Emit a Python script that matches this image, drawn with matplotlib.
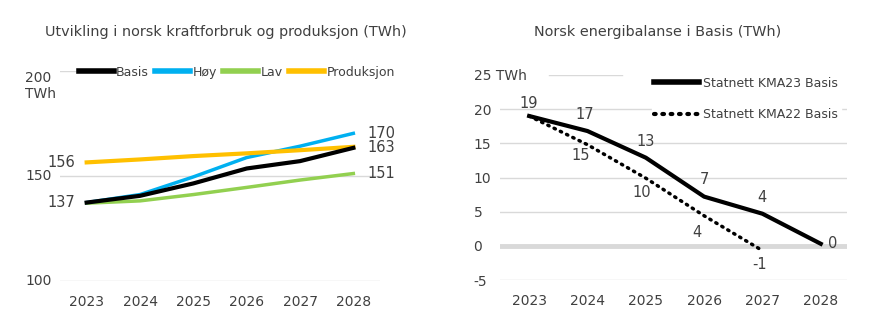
import numpy as np
import matplotlib
matplotlib.use("Agg")
import matplotlib.pyplot as plt

plt.rcParams['font.family'] = ['DejaVu Sans']

years = [2023, 2024, 2025, 2026, 2027, 2028]

# left chart: consumption scenarios and production (TWh)
basis = [137.3, 140.5, 146.4, 153.5, 157.0, 163.3]
hoy = [137.3, 141.1, 149.5, 158.7, 164.1, 170.2]
lav = [137.0, 138.1, 141.1, 144.5, 148.0, 151.1]
produksjon = [156.4, 157.8, 159.4, 160.7, 162.2, 163.8]

# right chart: energy balance (TWh)
kma23 = [19.0, 16.8, 12.9, 7.2, 4.7, 0.3]
kma22 = [19.0, 14.8, 9.9, 4.4, -0.7]
kma23_labels = ["19", "17", "13", "7", "4", "0"]
kma22_labels = ["15", "10", "4", "-1"]

TXT = "#404040"
GRID = "#d9d9d9"

W, H = 874, 324
fig = plt.figure(figsize=(W / 100, H / 100), dpi=100)


def px_axes(x0, y0, x1, y1):
    return fig.add_axes([x0 / W, 1 - y1 / H, (x1 - x0) / W, (y1 - y0) / H])


def clean(ax):
    for s in ax.spines.values():
        s.set_visible(False)
    ax.tick_params(length=0, colors=TXT, labelsize=10)
    ax.xaxis.set_tick_params(pad=10)
    ax.set_xticks(years)
    ax.set_xticklabels([str(y) for y in years])


# ---- left ----
ax1 = px_axes(60, 70.7, 380, 281)
clean(ax1)
ax1.set_xlim(2022.5, 2028.5)
ax1.set_ylim(100, 200)
ax1.set_yticks([100, 150, 200])
ax1.set_yticklabels(["100", "150", "200\nTWh"])
for lab, v in zip(ax1.get_yticklabels(), [100, 150, 200]):
    lab.set_verticalalignment("center" if v != 200 else "top")
    lab.set_horizontalalignment("left")
ax1.yaxis.set_tick_params(pad=25)
ax1.grid(axis="y", color=GRID, lw=1)
ax1.set_axisbelow(True)

ax1.plot(years, lav, color="#92d050", lw=2.5, label="Lav", zorder=3)
ax1.plot(years, hoy, color="#00b0f0", lw=2.5, label="Høy", zorder=4)
ax1.plot(years, basis, color="black", lw=3, label="Basis", zorder=5)
ax1.plot(years, produksjon, color="#ffc000", lw=3, label="Produksjon", zorder=4)

handles, labels = ax1.get_legend_handles_labels()
order = [2, 1, 0, 3]
leg = ax1.legend([handles[i] for i in order], [labels[i] for i in order],
                 loc="upper left", bbox_to_anchor=(0.035, 1.06), ncol=4,
                 frameon=True, framealpha=1, edgecolor="white",
                 fontsize=9, handlelength=2.8, handletextpad=0.2,
                 columnspacing=0.5, borderpad=0.1, labelcolor=TXT)
for ln in leg.get_lines():
    ln.set_linewidth(4)

ax1.annotate("137", (years[0], basis[0]), xytext=(-8, 0), textcoords="offset points",
             ha="right", va="center", color=TXT, fontsize=10.5)
ax1.annotate("156", (years[0], produksjon[0]), xytext=(-8, 0), textcoords="offset points",
             ha="right", va="center", color=TXT, fontsize=10.5)
ax1.annotate("170", (years[-1], hoy[-1]), xytext=(10, 0), textcoords="offset points",
             ha="left", va="center", color=TXT, fontsize=10.5)
ax1.annotate("163", (years[-1], basis[-1]), xytext=(10, 0), textcoords="offset points",
             ha="left", va="center", color=TXT, fontsize=10.5)
ax1.annotate("151", (years[-1], lav[-1]), xytext=(10, 0), textcoords="offset points",
             ha="left", va="center", color=TXT, fontsize=10.5)

fig.text(226 / W, 1 - 32 / H, "Utvikling i norsk kraftforbruk og produksjon (TWh)",
         ha="center", va="center", color=TXT, fontsize=10.4)

# ---- right ----
ax2 = px_axes(500, 75, 847, 280)
clean(ax2)
ax2.set_xlim(2022.5, 2028.45)
ax2.set_ylim(-5, 25)
ax2.set_yticks([-5, 0, 5, 10, 15, 20, 25])
ax2.set_yticklabels(["-5", "0", "5", "10", "15", "20", "25 TWh"], ha="left")
ax2.yaxis.set_tick_params(pad=19)
for v in [-5, 5, 10, 15, 20]:
    ax2.axhline(v, color=GRID, lw=1, zorder=1)
ax2.axhline(25, xmin=49 / 347, xmax=122 / 347, color=GRID, lw=1, zorder=1)
ax2.axhline(0, color=GRID, lw=3.5, zorder=1)

ax2.plot(years, kma23, color="black", lw=3, label="Statnett KMA23 Basis", zorder=4)
ax2.plot(years[:len(kma22)], kma22, color="black", lw=2.5, ls=(0, (0.4, 1.6)),
         dash_capstyle="round", label="Statnett KMA22 Basis", zorder=3)

leg2 = ax2.legend(loc="upper left", bbox_to_anchor=(0.42, 1.035), frameon=True,
                  framealpha=1, edgecolor="white", fontsize=9,
                  handlelength=3.6, handletextpad=0.3, labelspacing=1.5,
                  borderpad=0.2, labelcolor=TXT)
leg2.get_lines()[0].set_linewidth(4)
leg2.get_lines()[1].set_linewidth(3)

offs23 = [(0, 9), (-2, 12), (0, 12), (0, 12), (0, 12), (5, 0)]
for i, (lab, off) in enumerate(zip(kma23_labels, offs23)):
    ax2.annotate(lab, (years[i], kma23[i]), xytext=off, textcoords="offset points",
                 ha="center" if i < 5 else "left", va="center", color=TXT, fontsize=10.5)
offs22 = [(-5, -8), (-3, -10), (-5, -12), (-2, -10)]
for i, (lab, off) in enumerate(zip(kma22_labels, offs22)):
    ax2.annotate(lab, (years[i + 1], kma22[i + 1]), xytext=off, textcoords="offset points",
                 ha="center", va="center", color=TXT, fontsize=10.5)

fig.text(658 / W, 1 - 32 / H, "Norsk energibalanse i Basis (TWh)",
         ha="center", va="center", color=TXT, fontsize=10.4)

fig.savefig("out.png", dpi=100, facecolor="white")
